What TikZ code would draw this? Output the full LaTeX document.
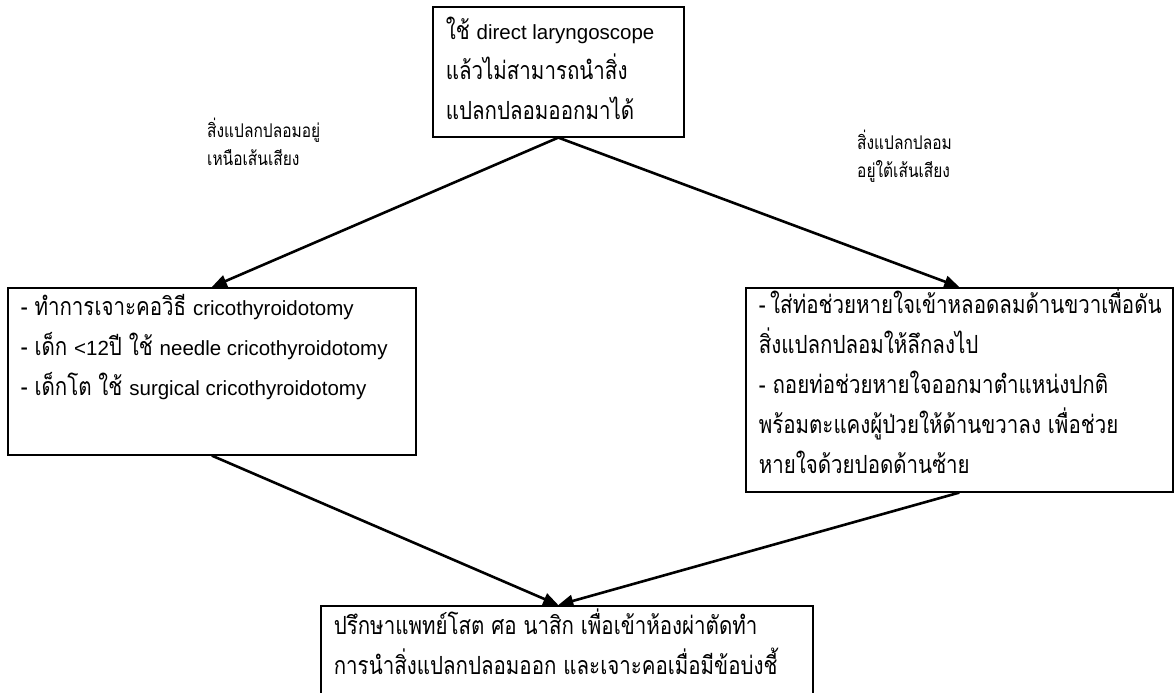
\documentclass[tikz,border=0pt]{standalone}
\usepackage{fontspec}
\setmainfont[Script=Thai, Scale=1.22, FakeStretch=0.82]{Loma}
\newfontfamily\en{Liberation Sans}
\usetikzlibrary{arrows.meta}

% box text: width, height, first baseline, lines
\newcommand{\boxtext}[4]{\parbox[c][#2][t]{#1}{\raggedright\rule{0pt}{#3}#4}}
\newcommand{\dash}{\mbox{-}~}

\begin{document}
\begin{tikzpicture}[x=1pt, y=-1pt,
    stepbox/.style={draw, line width=1.6pt, anchor=north west, inner xsep=13pt, inner ysep=0pt, font=\fontsize{20.5}{40}\selectfont},
    note/.style={anchor=base west, inner sep=0pt, align=left, font=\fontsize{15.5}{28}\selectfont},
    arrow/.style={-{Triangle[length=15pt,width=12pt]}, line width=2.6pt}
]
\useasboundingbox (0,0) rectangle (1175,693);

\node[stepbox] (scope) at (432,6) {\boxtext{225pt}{130pt}{33pt}{%
    ใช้ {\en direct laryngoscope}\\
    แล้วไม่สามารถนำสิ่ง\\
    แปลกปลอมออกมาได้}};
\node[stepbox] (above) at (7,287) {\boxtext{382pt}{167pt}{28pt}{%
    \dash ทำการเจาะคอวิธี {\en cricothyroidotomy}\\
    \dash เด็ก {\en <12}ปี ใช้ {\en needle cricothyroidotomy}\\
    \dash เด็กโต ใช้ {\en surgical cricothyroidotomy}}};
\node[stepbox] (below) at (745,287) {\boxtext{401pt}{204pt}{25pt}{%
    \dash ใส่ท่อช่วยหายใจเข้าหลอดลมด้านขวาเพื่อดัน\\
    สิ่งแปลกปลอมให้ลึกลงไป\\
    \dash ถอยท่อช่วยหายใจออกมาตำแหน่งปกติ\\
    พร้อมตะแคงผู้ป่วยให้ด้านขวาลง เพื่อช่วย\\
    หายใจด้วยปอดด้านซ้าย}};
\node[stepbox] (ent) at (320,605) {\boxtext{466pt}{130pt}{29pt}{%
    ปรึกษาแพทย์โสต ศอ นาสิก เพื่อเข้าห้องผ่าตัดทำ\\
    การนำสิ่งแปลกปลอมออก และเจาะคอเมื่อมีข้อบ่งชี้}};

\node[note] (abovelbl) at (207,165) {สิ่งแปลกปลอมอยู่\\เหนือเส้นเสียง};
\node[note] (belowlbl) at (857,177) {สิ่งแปลกปลอม\\อยู่ใต้เส้นเสียง};

\draw[arrow] (scope.south) -- (above.north);
\draw[arrow] (scope.south) -- (below.north);
\draw[arrow] (above.south) -- (ent.north -| scope.south);
\draw[arrow] (below.south) -- (ent.north -| scope.south);
\end{tikzpicture}
\end{document}
